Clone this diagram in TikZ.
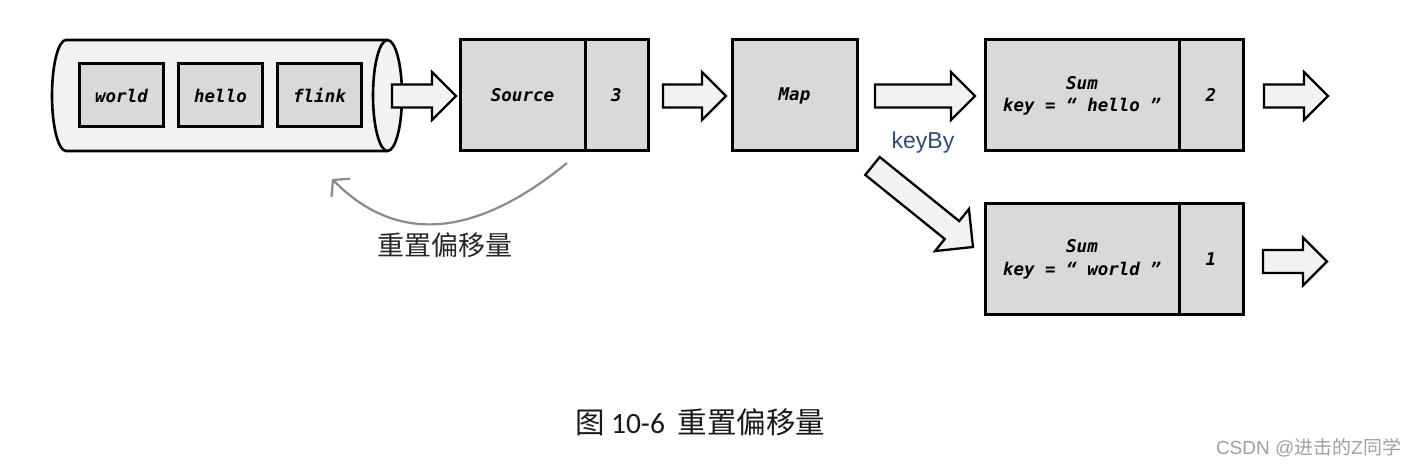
\documentclass[tikz,border=0pt]{standalone}
\usepackage{fontspec}
\setmainfont{Liberation Sans}
\newfontfamily\codefont{DejaVu Sans Mono}
\newfontfamily\cjkfont{Noto Sans CJK SC}
\newfontfamily\capfont{Carlito}
\usetikzlibrary{positioning,calc,arrows.meta}

\definecolor{boxgrey}{HTML}{D9D9D9}
\definecolor{pipegrey}{HTML}{F2F2F2}
\definecolor{curvegrey}{HTML}{8A8A8A}
\definecolor{keyblue}{HTML}{2F4A7C}
\definecolor{marktext}{HTML}{A0A0A0}

% fat arrow from tail to tip, #1 = head size
\newcommand{\blockarrow}[3][24]{%
  \path (#2) coordinate (ba-t) (#3) coordinate (ba-p);
  \path ($(ba-p)!#1pt!(ba-t)$) coordinate (ba-h);
  \draw[flow] ($(ba-t)!11.5pt!90:(ba-p)$) -- ($(ba-h)!11.5pt!90:(ba-p)$)
    -- ($(ba-h)!#1pt!90:(ba-p)$) -- (ba-p) -- ($(ba-h)!#1pt!-90:(ba-p)$)
    -- ($(ba-h)!11.5pt!-90:(ba-p)$) -- ($(ba-t)!11.5pt!-90:(ba-p)$) -- cycle;
}

\begin{document}
\begin{tikzpicture}[
    x=1pt, y=1pt,
    every node/.style={inner sep=0pt, outer sep=0pt},
    code/.style={font=\codefont\bfseries\itshape\fontsize{17.5}{22}\selectfont},
    cell/.style={code, draw, line width=3pt, fill=boxgrey, minimum width=84pt, minimum height=63pt},
    stage/.style={code, draw, line width=3pt, fill=boxgrey, minimum height=111pt, align=center},
    pipe/.style={draw, line width=2.6pt, fill=pipegrey},
    flow/.style={draw, line width=2.3pt, fill=pipegrey, line join=miter},
    reset/.style={draw=curvegrey, line width=2.2pt, -{Straight Barb[length=11pt, width=26pt, line width=2.2pt]}}
  ]
  \useasboundingbox (0,0) rectangle (1416,466);

  % the queue
  \draw[pipe] (66,426) -- (387.5,426) arc[start angle=90, end angle=-90, x radius=14.5, y radius=55.5]
    -- (66,315) arc[start angle=270, end angle=90, x radius=14, y radius=55.5] -- cycle;
  \draw[pipe, fill=none] (387.5,426) arc[start angle=90, end angle=270, x radius=14.5, y radius=55.5];
  \node (world) [cell] at (121.5,370.5) {world};
  \node (hello) [cell, right=15pt of world] {hello};
  \node (flink) [cell, right=15pt of hello] {flink};

  % operators
  \node (source) [stage, minimum width=125pt] at (522.5,370.5) {Source};
  \node (source_n) [stage, minimum width=63pt, right=0pt of source] {3};
  \node (map) [stage, minimum width=125pt] at (794.5,370.5) {Map};
  \node (sum_hello) [stage, minimum width=194pt] at (1082,370.5) {Sum\\key = “ hello ”};
  \node (sum_hello_n) [stage, minimum width=64pt, right=0pt of sum_hello] {2};
  \node (sum_world) [stage, minimum width=194pt, font=\codefont\bfseries\itshape\fontsize{17.5}{23}\selectfont] at (1082,206.5) {Sum\\key = “ world ”};
  \node (sum_world_n) [stage, minimum width=64pt, right=0pt of sum_world] {1};

  % fat arrows
  \coordinate (q_out) at ($(flink.east)+(30.5,-0.5)$);
  \coordinate (src_in) at ($(source.west)+(-4,-0.5)$);
  \coordinate (src_out) at ($(source_n.east)+(15,-0.5)$);
  \coordinate (map_in) at ($(map.west)+(-6,-0.5)$);
  \coordinate (map_out) at ($(map.east)+(18,-0.5)$);
  \coordinate (hello_in) at ($(sum_hello.west)+(-10,-0.5)$);
  \coordinate (hello_out) at ($(sum_hello_n.east)+(21,-0.5)$);
  \coordinate (hello_end) at ($(sum_hello_n.east)+(85,-0.5)$);
  \coordinate (key_out) at ($(map.south east)+(15.5,-15)$);
  \coordinate (world_in) at ($(sum_world.west)+(-12,12.5)$);
  \coordinate (world_out) at ($(sum_world_n.east)+(20,-2)$);
  \coordinate (world_end) at ($(sum_world_n.east)+(84,-2)$);
  \blockarrow{q_out}{src_in}
  \blockarrow{src_out}{map_in}
  \blockarrow{map_out}{hello_in}
  \blockarrow{hello_out}{hello_end}
  \blockarrow[27]{key_out}{world_in}
  \blockarrow{world_out}{world_end}
  \node (keyby) [text=keyblue, font=\fontsize{23}{26}\selectfont] at (923,323) {keyBy};

  % offset reset
  \coordinate (reset_from) at ($(source.south)+(44.5,-12)$);
  \coordinate (reset_to) at (332,287);
  \draw[reset] (reset_from) .. controls (480,232) and (400,218) .. (reset_to);
  \node (reset_label) [text=black!85, font=\cjkfont\fontsize{27}{30}\selectfont] at (445,221) {重置偏移量};

  % caption
  \node (caption) [text=black!90, font=\fontsize{29.5}{33}\selectfont] at (700.5,44)
    {{\cjkfont 图}\hspace{6pt}{\capfont 10-6}\hspace{13pt}{\cjkfont 重置偏移量}};
  \node (mark) [anchor=east, text=marktext, font=\fontsize{19}{22}\selectfont] at (1401,18)
    {CSDN @{\cjkfont 进击的}Z{\cjkfont 同学}};
\end{tikzpicture}
\end{document}
